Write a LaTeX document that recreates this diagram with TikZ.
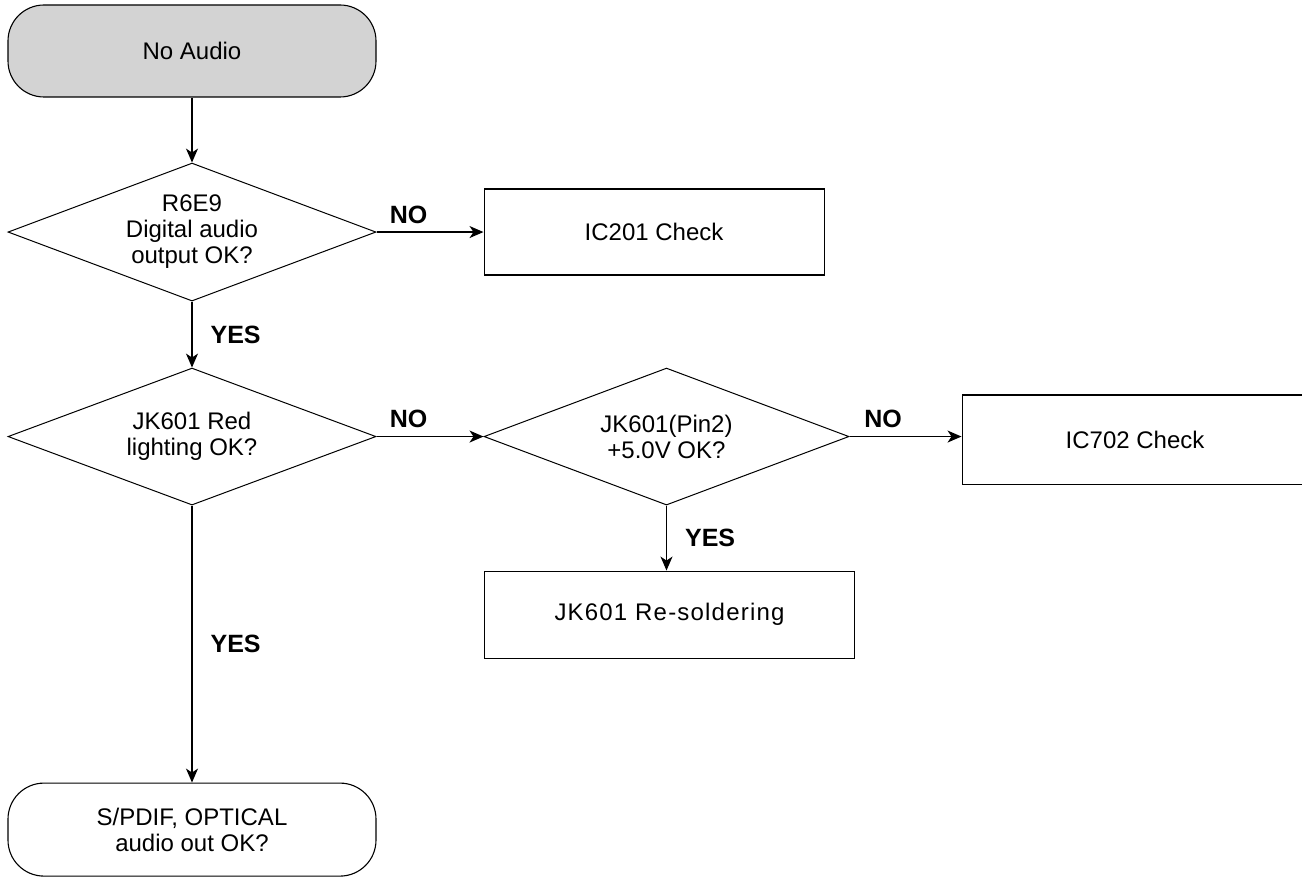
\documentclass[tikz,border=0pt]{standalone}
\usepackage{fontspec}
\setmainfont{Liberation Sans}
\newfontfamily\spacedfont[LetterSpace=5]{Liberation Sans}
\usetikzlibrary{positioning,shapes.geometric,arrows.meta}
\definecolor{startgray}{RGB}{211,211,211}

\begin{document}
\begin{tikzpicture}[
  term/.style={draw, rounded corners=36pt, align=center, minimum width=368pt, minimum height=92pt, font=\fontsize{24}{26}\selectfont, line width=1.1pt},
  ask/.style={draw, diamond, shape aspect=2.67, align=center, inner sep=0pt, minimum width=368pt, minimum height=138pt, font=\fontsize{24}{26}\selectfont, line width=1pt},
  act/.style={draw, align=center, minimum width=340pt, minimum height=86pt, font=\fontsize{24}{26}\selectfont, line width=1.1pt},
  arr/.style={-{Stealth[length=14pt,width=12pt,inset=4pt]}, line width=1.2pt},
  lbl/.style={font=\bfseries\fontsize{25}{30}\selectfont, inner sep=0pt}
]
\useasboundingbox (0,0) rectangle (1302pt,-877pt);
\node[term, fill=startgray] (start) at (192pt,-51pt) {No Audio};
\node[ask, below=65pt of start] (digital) {R6E9\\ Digital audio\\ output OK?};
\node[act, right=107pt of digital] (ictwo) {IC201 Check};
\node[ask, minimum height=137pt, below=66pt of digital] (redlight) {JK601 Red\\ lighting OK?};
\node[ask, minimum width=365pt, minimum height=137pt, right=107pt of redlight] (pintwo) {JK601(Pin2)\\ +5.0V OK?};
\node[act, minimum width=346pt, minimum height=89pt, right=112pt of pintwo, yshift=-3pt] (icseven) {IC702 Check};
\node[act, minimum width=370pt, minimum height=87pt, below=65pt of pintwo, xshift=3pt] (resolder) {\spacedfont JK601 Re-soldering};
\node[term, minimum height=93pt, below=277pt of redlight] (spdif) {S/PDIF, OPTICAL\\ audio out OK?};
\draw[arr] (start) -- (digital);
\draw[arr] (digital) -- node[lbl, above=8pt, pos=0.3] {NO} (ictwo);
\draw[arr] (digital) -- node[lbl, right=18pt] {YES} (redlight);
\draw[arr] (redlight) -- node[lbl, above=8pt, pos=0.3] {NO} (pintwo);
\draw[arr] (pintwo) -- node[lbl, above=8pt, pos=0.3] {NO} (pintwo -| icseven.west);
\draw[arr] (pintwo) -- node[lbl, right=18pt] {YES} (pintwo |- resolder.north);
\draw[arr] (redlight) -- node[lbl, right=18pt] {YES} (spdif);
\end{tikzpicture}
\end{document}
